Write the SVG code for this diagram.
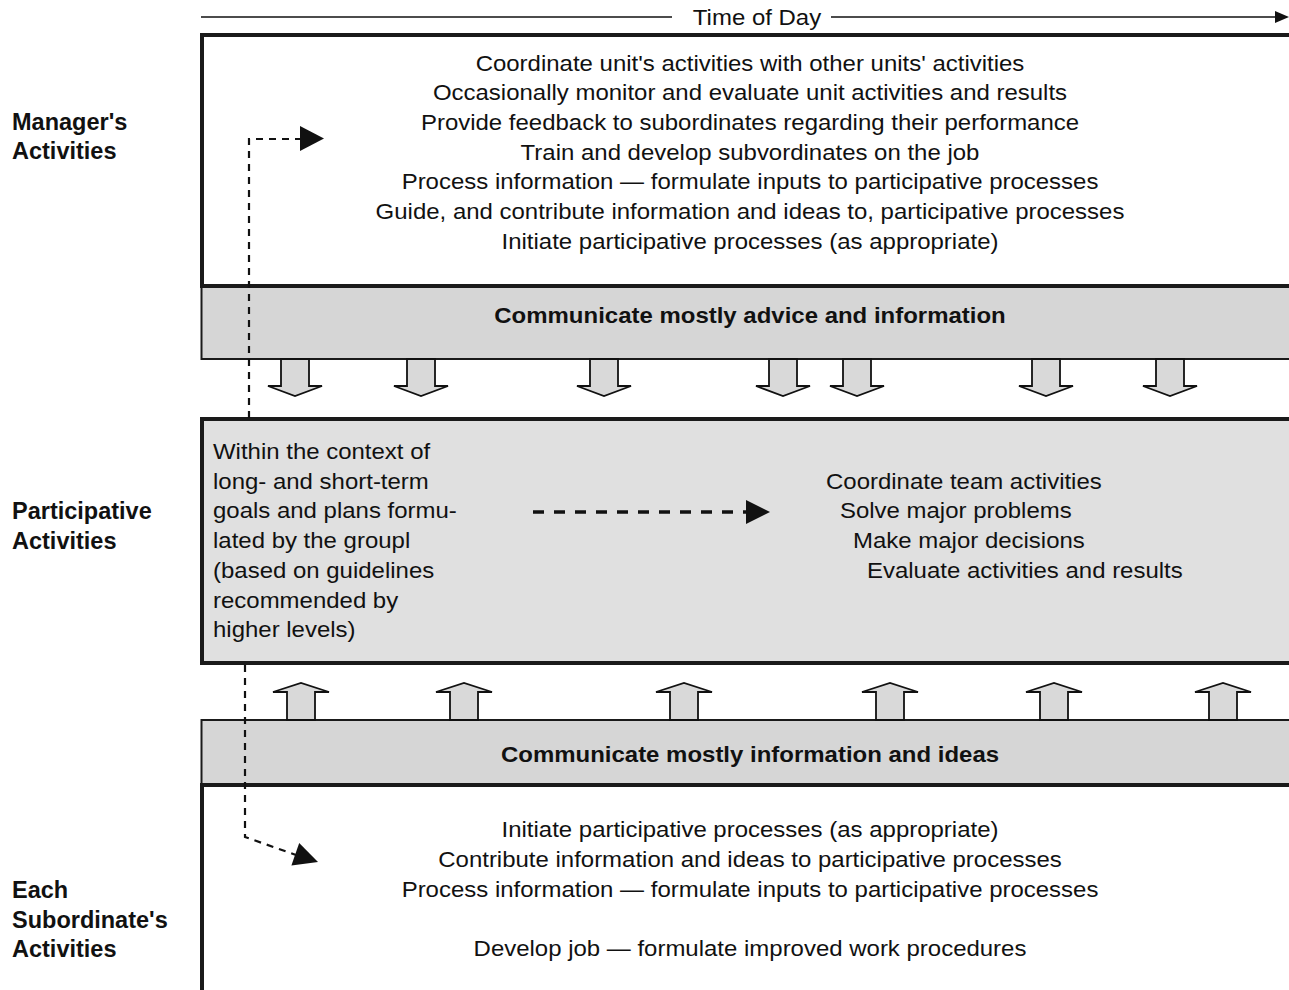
<svg xmlns="http://www.w3.org/2000/svg" width="1289" height="990" viewBox="0 0 1289 990">
  <style>
    .txt { font-family: "Liberation Sans", Arial, sans-serif; font-size: 22px; fill: #111; }
    .bold { font-family: "Liberation Sans", Arial, sans-serif; font-weight: bold; fill: #111; }
    .label { font-size: 23.5px; }
    .band-txt { font-size: 22px; }
    .box { stroke: #1a1a1a; stroke-width: 4; }
    .band { fill: #d6d6d6; stroke: #1a1a1a; stroke-width: 2; }
    .flow { fill: #d9d9d9; stroke: #111; stroke-width: 1.8; stroke-linejoin: miter; }
    .dash { fill: none; stroke: #111; stroke-width: 2.2; stroke-dasharray: 7 6; }
    .head { fill: #111; }
  </style>
  <defs>
    <!-- block arrow shapes, drawn around x = 0 -->
    <polygon id="down-arrow" points="-14,359 14,359 14,386 27,386 0,396 -27,386 -14,386"/>
    <polygon id="up-arrow" points="-14,720 -14,692 -28,692 0,683 28,692 14,692 14,720"/>
  </defs>

  <rect x="0" y="0" width="1289" height="990" fill="#ffffff"/>

  <!-- time axis -->
  <g id="time-axis">
    <line x1="201" y1="17" x2="672" y2="17" stroke="#111" stroke-width="1.6"/>
    <line x1="831" y1="17" x2="1277" y2="17" stroke="#111" stroke-width="1.6"/>
    <polygon class="head" points="1275,11 1289,17 1275,23"/>
    <g transform="translate(757,0) scale(1.09,1)">
      <text class="txt" x="0" y="25" text-anchor="middle">Time of Day</text>
    </g>
  </g>

  <!-- row labels -->
  <g id="label-manager">
    <text class="bold label" x="12" y="130">Manager's</text>
    <text class="bold label" x="12" y="159">Activities</text>
  </g>
  <g id="label-participative">
    <text class="bold label" x="12" y="519">Participative</text>
    <text class="bold label" x="12" y="549">Activities</text>
  </g>
  <g id="label-subordinate">
    <text class="bold label" x="12" y="898">Each</text>
    <text class="bold label" x="12" y="928">Subordinate's</text>
    <text class="bold label" x="12" y="957">Activities</text>
  </g>

  <!-- advice band (manager to group) -->
  <g id="band-advice">
    <rect class="band" x="201.5" y="287" width="1100" height="72"/>
    <g transform="translate(750,0) scale(1.09,1)">
      <text class="bold band-txt" x="0" y="323" text-anchor="middle">Communicate mostly advice and information</text>
    </g>
  </g>

  <!-- manager box -->
  <g id="manager-box">
    <rect class="box" x="202" y="35" width="1100" height="251" fill="#ffffff"/>
    <g transform="translate(750,0) scale(1.09,1)">
      <text class="txt" x="0" y="71" text-anchor="middle">Coordinate unit's activities with other units' activities</text>
      <text class="txt" x="0" y="100" text-anchor="middle">Occasionally monitor and evaluate unit activities and results</text>
      <text class="txt" x="0" y="130" text-anchor="middle">Provide feedback to subordinates regarding their performance</text>
      <text class="txt" x="0" y="160" text-anchor="middle">Train and develop subvordinates on the job</text>
      <text class="txt" x="0" y="189" text-anchor="middle">Process information — formulate inputs to participative processes</text>
      <text class="txt" x="0" y="219" text-anchor="middle">Guide, and contribute information and ideas to, participative processes</text>
      <text class="txt" x="0" y="249" text-anchor="middle">Initiate participative processes (as appropriate)</text>
    </g>
  </g>

  <!-- participative box -->
  <g id="participative-box">
    <rect class="box" x="202" y="419" width="1100" height="244" fill="#e0e0e0"/>
    <g transform="translate(213,0) scale(1.09,1)">
      <text class="txt" x="0" y="459">Within the context of</text>
      <text class="txt" x="0" y="489">long- and short-term</text>
      <text class="txt" x="0" y="518">goals and plans formu-</text>
      <text class="txt" x="0" y="548">lated by the groupl</text>
      <text class="txt" x="0" y="578">(based on guidelines</text>
      <text class="txt" x="0" y="608">recommended by</text>
      <text class="txt" x="0" y="637">higher levels)</text>
    </g>
    <g transform="translate(826,0) scale(1.09,1)">
      <text class="txt" x="0" y="489">Coordinate team activities</text>
      <text class="txt" x="12.8" y="518">Solve major problems</text>
      <text class="txt" x="24.8" y="548">Make major decisions</text>
      <text class="txt" x="37.6" y="578">Evaluate activities and results</text>
    </g>
  </g>

  <!-- information band (subordinates to group) -->
  <g id="band-information">
    <rect class="band" x="201.5" y="720" width="1100" height="64"/>
    <g transform="translate(750,0) scale(1.09,1)">
      <text class="bold band-txt" x="0" y="762" text-anchor="middle">Communicate mostly information and ideas</text>
    </g>
  </g>

  <!-- subordinate box -->
  <g id="subordinate-box">
    <rect class="box" x="202" y="785" width="1100" height="300" fill="#ffffff"/>
    <g transform="translate(750,0) scale(1.09,1)">
      <text class="txt" x="0" y="837" text-anchor="middle">Initiate participative processes (as appropriate)</text>
      <text class="txt" x="0" y="867" text-anchor="middle">Contribute information and ideas to participative processes</text>
      <text class="txt" x="0" y="897" text-anchor="middle">Process information — formulate inputs to participative processes</text>
      <text class="txt" x="0" y="956" text-anchor="middle">Develop job — formulate improved work procedures</text>
    </g>
  </g>

  <!-- connectors -->
  <g id="connectors">
    <!-- advice flowing down -->
    <use href="#down-arrow" class="flow" x="295"/>
    <use href="#down-arrow" class="flow" x="421"/>
    <use href="#down-arrow" class="flow" x="604"/>
    <use href="#down-arrow" class="flow" x="783"/>
    <use href="#down-arrow" class="flow" x="857"/>
    <use href="#down-arrow" class="flow" x="1046"/>
    <use href="#down-arrow" class="flow" x="1170"/>
    <!-- information flowing up -->
    <use href="#up-arrow" class="flow" x="301"/>
    <use href="#up-arrow" class="flow" x="464"/>
    <use href="#up-arrow" class="flow" x="684"/>
    <use href="#up-arrow" class="flow" x="890"/>
    <use href="#up-arrow" class="flow" x="1054"/>
    <use href="#up-arrow" class="flow" x="1223"/>

    <!-- group context feeds manager activities -->
    <path class="dash" d="M249,418 V139 H301"/>
    <polygon class="head" points="300,126 324,138.5 300,151"/>

    <!-- context leads to team work -->
    <line x1="533" y1="512" x2="747" y2="512" stroke="#111" stroke-width="3.5" stroke-dasharray="11 10"/>
    <polygon class="head" points="746,500 770,512 746,524"/>

    <!-- group context feeds subordinate activities -->
    <path class="dash" d="M245,665 V837 L296,855"/>
    <polygon class="head" points="318,862 291.4,865.6 299.2,842.9"/>
  </g>
</svg>
